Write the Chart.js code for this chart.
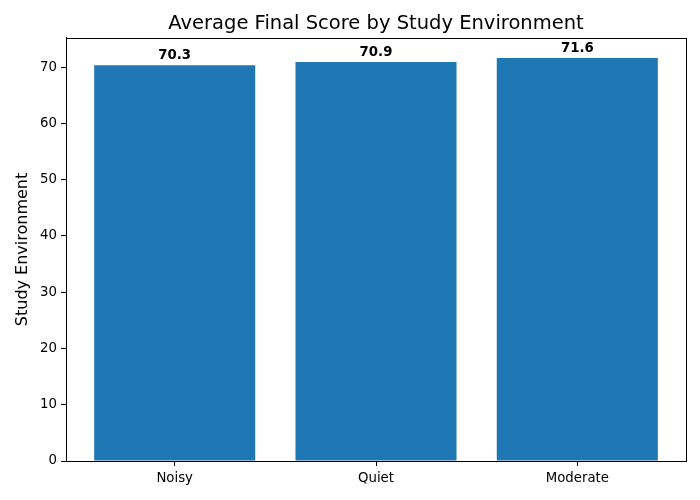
<!DOCTYPE html>
<html>
<head>
<meta charset="utf-8">
<script src="https://cdn.jsdelivr.net/npm/chart.js@4"></script>
<style>
  body { margin: 0; background: #fff; }
  #wrap { width: 700px; height: 500px; }
</style>
</head>
<body>
<div id="wrap"><canvas id="score-chart"></canvas></div>
<script>
// chart data
const environments = ["Noisy", "Quiet", "Moderate"];
const avgScores = [70.3, 70.9, 71.6];
const yTicks = [0, 10, 20, 30, 40, 50, 60, 70];

const barColor = '#1f77b4';
const fontFamily = "'DejaVu Sans', sans-serif";

Chart.defaults.font.family = fontFamily;
Chart.defaults.color = '#000';

// frame round the plot area, like the matplotlib spines
const framePlugin = {
    id: 'frame',
    afterDraw(chart) {
        const { ctx, chartArea } = chart;
        ctx.save();
        ctx.strokeStyle = '#000';
        ctx.lineWidth = 1;
        ctx.strokeRect(Math.round(chartArea.left) + 0.5, Math.round(chartArea.top) + 0.5,
            Math.round(chartArea.right - chartArea.left), Math.round(chartArea.bottom - chartArea.top));
        ctx.restore();
    }
};

// value labels on top of each bar
const valueLabels = {
    id: 'valueLabels',
    afterDatasetsDraw(chart) {
        const { ctx } = chart;
        const meta = chart.getDatasetMeta(0);
        ctx.save();
        ctx.font = "bold 13.3px " + fontFamily;
        ctx.fillStyle = '#000';
        ctx.textAlign = 'center';
        ctx.textBaseline = 'bottom';
        meta.data.forEach((bar, i) => {
            ctx.fillText(avgScores[i].toFixed(1), bar.x, bar.y - 3);
        });
        ctx.restore();
    }
};

const scoreData = {
    datasets: [{
        data: avgScores.map((v, i) => ({ x: i, y: v })),
        backgroundColor: barColor,
        borderColor: barColor,
        borderWidth: 0,
        barPercentage: 0.8,
        categoryPercentage: 1.0
    }]
};

const scoreOptions = {
    responsive: true,
    maintainAspectRatio: false,
    animation: false,
    layout: {
        padding: { left: 0, right: 14, top: 0, bottom: 0 }
    },
    scales: {
        x: {
            type: 'linear',
            min: -0.54,
            max: 2.54,
            offset: false,
            afterBuildTicks: s => { s.ticks = environments.map((_, i) => ({ value: i })); },
            afterFit: s => { s.height = 39; },
            ticks: {
                callback: v => environments[v],
                font: { size: 13.3 },
                padding: 5,
                maxRotation: 0
            },
            grid: {
                offset: false,
                drawOnChartArea: false,
                drawTicks: true,
                tickLength: 5,
                color: '#000'
            },
            border: { display: true, color: '#000' }
        },
        y: {
            min: 0,
            max: 75.18,
            afterBuildTicks: s => { s.ticks = yTicks.map(v => ({ value: v })); },
            afterFit: s => { s.width = 66; },
            ticks: {
                font: { size: 13.3 },
                padding: 4
            },
            grid: {
                drawOnChartArea: false,
                drawTicks: true,
                tickLength: 5,
                color: '#000'
            },
            border: { display: true, color: '#000' },
            title: {
                display: true,
                text: 'Study Environment',
                font: { size: 16 },
                padding: { top: 13, bottom: 0 }
            }
        }
    },
    plugins: {
        legend: { display: false },
        tooltip: { enabled: false },
        title: {
            display: true,
            fullSize: false,
            text: 'Average Final Score by Study Environment',
            font: { size: 19.5, weight: 'normal' },
            color: '#000',
            padding: { top: 12.5, bottom: 2 }
        }
    }
};

new Chart(document.getElementById('score-chart'), {
    type: 'bar',
    data: scoreData,
    options: scoreOptions,
    plugins: [framePlugin, valueLabels]
});
</script>
</body>
</html>
